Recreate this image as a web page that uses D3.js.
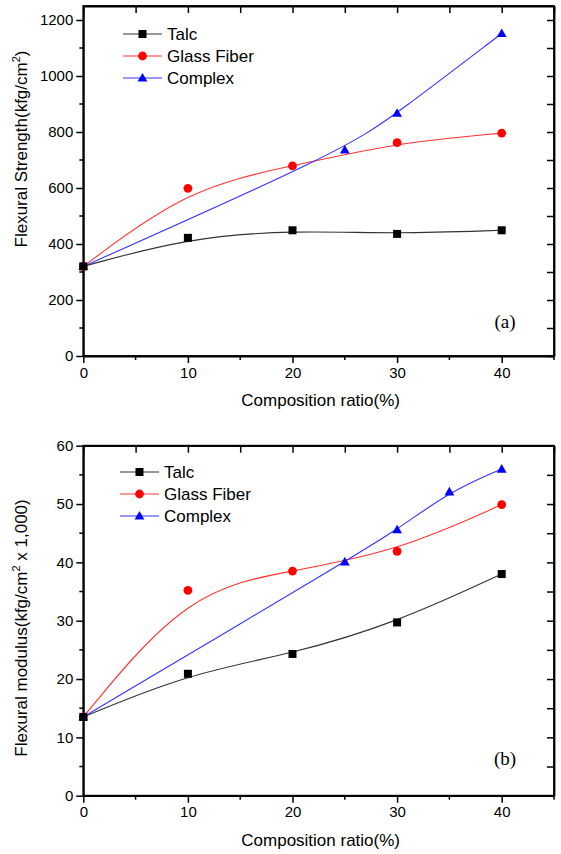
<!DOCTYPE html>
<html>
<head>
<meta charset="utf-8">
<script src="https://cdn.jsdelivr.net/npm/d3@7"></script>
<style>
  body { margin: 0; background: #fff; }
  svg { display: block; font-family: "Liberation Sans", Arial, sans-serif; }
</style>
</head>
<body>
<svg id="chart" width="561" height="854"></svg>
<script>
// composition ratio (%)
var ratioAll = [0, 10, 20, 30, 40];
var ratioComplexA = [0, 25, 30, 40];
var ratioComplexB = [0, 25, 30, 35, 40];

// (a) flexural strength, kgf/cm2
var strengthTalc = [320, 422, 449, 436, 449];
var strengthGlass = [320, 599, 679, 762, 796];
var strengthComplex = [320, 736, 867, 1152];

// (b) flexural modulus, kgf/cm2 x 1000
var modulusTalc = [13.5, 20.9, 24.3, 29.7, 38.0];
var modulusGlass = [13.5, 35.2, 38.5, 41.9, 49.9];
var modulusComplex = [13.5, 40.1, 45.6, 52.1, 56.0];

var seriesNames = ["Talc", "Glass Fiber", "Complex"];
var xTicks = [0, 10, 20, 30, 40];
var xMinor = [5, 15, 25, 35, 45];

var svg = d3.select("#chart");

var panels = [
  {
    top: 6, bottom: 356, yMax: 1250, yStep: 200, yMinor: 100, yTop: 1200,
    label: "(a)", labelY: 328, titleY: 149, titleX: 21,
    title: ["Flexural Strength(kfg/cm", "2", ")"],
    legendX: 123, legendY: 34,
    series: [
      { x: ratioAll, y: strengthTalc, color: "#000", line: "#333", shape: "square" },
      { x: ratioAll, y: strengthGlass, color: "#ff0000", line: "#ff3333", shape: "circle" },
      { x: ratioComplexA, y: strengthComplex, color: "#0000ff", line: "#3333ff", shape: "triangle" }
    ]
  },
  {
    top: 445.7, bottom: 795.7, yMax: 60, yStep: 10, yMinor: 5, yTop: 60,
    label: "(b)", labelY: 765, titleY: 628, titleX: 21,
    title: ["Flexural modulus(kfg/cm", "2", " x 1,000)"],
    legendX: 120, legendY: 472,
    series: [
      { x: ratioAll, y: modulusTalc, color: "#000", line: "#333", shape: "square" },
      { x: ratioAll, y: modulusGlass, color: "#ff0000", line: "#ff3333", shape: "circle" },
      { x: ratioComplexB, y: modulusComplex, color: "#0000ff", line: "#3333ff", shape: "triangle" }
    ]
  }
];

var left = 83.3, right = 554;

function drawMarker(g, shape, cx, cy, color) {
    if (shape == "square") {
        g.append("rect").attr("x", cx - 4).attr("y", cy - 4)
            .attr("width", 8).attr("height", 8).attr("fill", color);
    } else if (shape == "circle") {
        g.append("circle").attr("cx", cx).attr("cy", cy).attr("r", 4.4).attr("fill", color);
    } else {
        g.append("path")
            .attr("d", "M" + cx + "," + (cy - 5) + "L" + (cx + 4.9) + "," + (cy + 3.6) + "L" + (cx - 4.9) + "," + (cy + 3.6) + "Z")
            .attr("fill", color);
    }
}

panels.forEach(function(p) {
    var x = d3.scaleLinear().domain([0, 45]).range([left, right]);
    var y = d3.scaleLinear().domain([0, p.yMax]).range([p.bottom, p.top]);
    var g = svg.append("g");

    var yMajor = d3.range(0, p.yTop + 0.001, p.yStep);
    var yMinorVals = d3.range(p.yMinor, p.yTop + 0.001, p.yStep);
    var yAll = d3.range(0, p.yTop + 0.001, p.yMinor);

    // bottom axis, outward ticks
    var bottomAxis = g.append("g").attr("transform", "translate(0," + p.bottom + ")")
        .call(d3.axisBottom(x).tickValues(xTicks).tickSize(7).tickSizeOuter(0).tickPadding(4).tickFormat(d3.format("d")));
    bottomAxis.append("g").selectAll("line").data(xMinor).join("line")
        .attr("x1", d => x(d)).attr("x2", d => x(d)).attr("y1", 0).attr("y2", 4)
        .attr("stroke", "#000").attr("stroke-width", 1.5);

    // left axis, outward ticks
    var leftAxis = g.append("g").attr("transform", "translate(" + left + ",0)")
        .call(d3.axisLeft(y).tickValues(yMajor).tickSize(7).tickSizeOuter(0).tickPadding(3).tickFormat(d3.format("d")));
    leftAxis.append("g").selectAll("line").data(yMinorVals).join("line")
        .attr("y1", d => y(d)).attr("y2", d => y(d)).attr("x1", 0).attr("x2", -4)
        .attr("stroke", "#000").attr("stroke-width", 1.5);

    // top axis, inward ticks, no labels
    g.append("g").attr("transform", "translate(0," + p.top + ")")
        .call(d3.axisTop(x).tickValues(xTicks.concat(xMinor)).tickSize(-7).tickSizeOuter(0).tickFormat(""));
    // right axis, inward ticks, no labels
    g.append("g").attr("transform", "translate(" + right + ",0)")
        .call(d3.axisRight(y).tickValues(yAll).tickSize(-7).tickSizeOuter(0).tickFormat(""));

    g.selectAll(".domain").attr("stroke", "#000").attr("stroke-width", 1.8);
    g.selectAll(".tick line").attr("stroke", "#000").attr("stroke-width", 1.5);
    g.selectAll(".tick text").attr("font-size", 15).attr("fill", "#000")
        .attr("font-family", "Liberation Sans, Arial, sans-serif");

    // close the frame corners
    g.append("rect").attr("x", left).attr("y", p.top)
        .attr("width", right - left).attr("height", p.bottom - p.top)
        .attr("fill", "none").attr("stroke", "#000").attr("stroke-width", 1.8);

    // axis titles
    g.append("text").attr("x", (left + right) / 2 + 2).attr("y", p.bottom + 50)
        .attr("text-anchor", "middle").attr("font-size", 17).text("Composition ratio(%)");

    var yt = g.append("text")
        .attr("transform", "translate(" + p.titleX + "," + p.titleY + ") rotate(-90)")
        .attr("text-anchor", "middle").attr("dy", "0.35em").attr("font-size", 17);
    yt.append("tspan").text(p.title[0]);
    yt.append("tspan").attr("font-size", 11).attr("dy", -7).text(p.title[1]);
    yt.append("tspan").attr("dy", 7).text(p.title[2]);

    // panel label
    g.append("text").attr("x", 505).attr("y", p.labelY).attr("text-anchor", "middle")
        .attr("font-family", "Liberation Serif, Times New Roman, serif")
        .attr("font-size", 19).text(p.label);

    // series: smoothed B-spline lines with markers
    var line = d3.line().curve(d3.curveBasis);
    p.series.forEach(function(s) {
        var pts = s.x.map((v, i) => [x(v), y(s.y[i])]);
        g.append("path").attr("d", line(pts)).attr("fill", "none")
            .attr("stroke", s.line).attr("stroke-width", 1.1);
    });
    p.series.slice().reverse().forEach(function(s) {
        s.x.forEach(function(v, i) {
            drawMarker(g, s.shape, x(v), y(s.y[i]), s.color);
        });
    });

    // legend
    p.series.forEach(function(s, i) {
        var ly = p.legendY + i * 22;
        g.append("line").attr("x1", p.legendX).attr("x2", p.legendX + 39)
            .attr("y1", ly).attr("y2", ly).attr("stroke", s.line).attr("stroke-width", 1.1);
        drawMarker(g, s.shape, p.legendX + 19.5, ly, s.color);
        g.append("text").attr("x", p.legendX + 44).attr("y", ly).attr("dy", "0.36em")
            .attr("font-size", 17).text(seriesNames[i]);
    });
});
</script>
</body>
</html>
